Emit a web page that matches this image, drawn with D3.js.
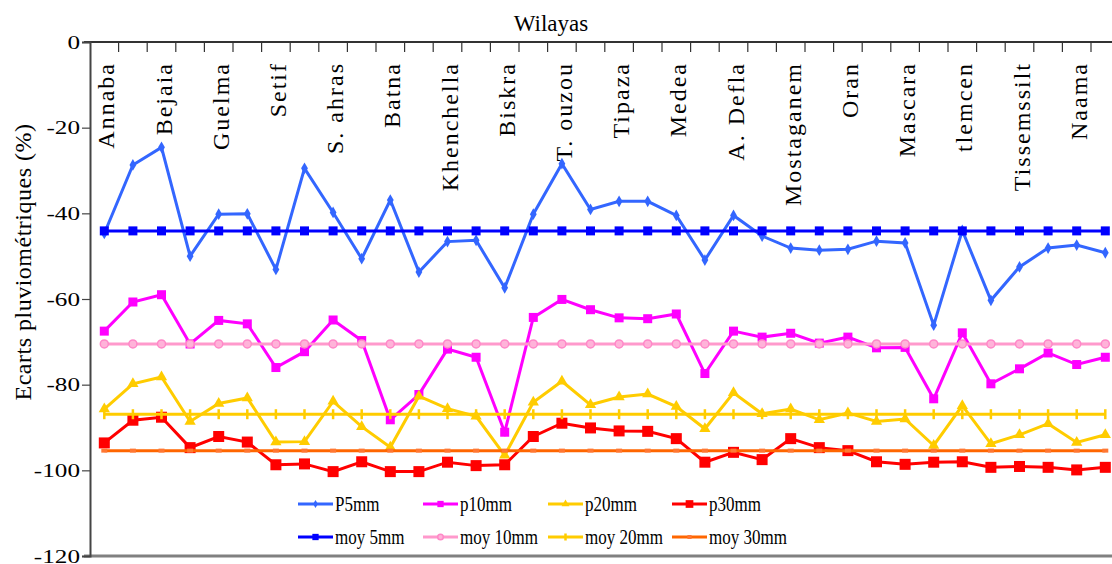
<!DOCTYPE html>
<html>
<head>
<meta charset="utf-8">
<script src="https://cdn.jsdelivr.net/npm/d3@7"></script>
<style>
    body { margin: 0; background: #fff; }
    text { font-family: "Liberation Serif", "DejaVu Serif", serif; fill: #000; }
</style>
</head>
<body>
<svg id="chart" width="1112" height="564"></svg>
<script>
// wilayas (one label every two points)
var wilayas = ["Annaba", "Bejaia", "Guelma", "Setif", "S. ahras", "Batna", "Khenchella", "Biskra",
    "T. ouzou", "Tipaza", "Medea", "A. Defla", "Mostaganem", "Oran", "Mascara", "tlemcen",
    "Tissemssilt", "Naama"];
var yTicks = [0, -20, -40, -60, -80, -100, -120];

// écarts pluviométriques (%)
var p5mm = [-44.7, -28.7, -24.6, -50.0, -40.2, -40.1, -53.1, -29.5, -39.8, -50.6, -36.9, -53.7,
    -46.6, -46.3, -57.4, -40.2, -28.4, -39.1, -37.2, -37.2, -40.5, -50.9, -40.5, -45.3,
    -48.1, -48.6, -48.4, -46.5, -46.9, -66.1, -44.0, -60.3, -52.5, -48.1, -47.4, -49.2];
var p10mm = [-67.5, -60.7, -59.0, -70.5, -65.0, -65.8, -76.0, -72.3, -64.9, -69.7, -88.2, -82.3,
    -71.7, -73.6, -91.1, -64.3, -60.1, -62.5, -64.4, -64.6, -63.5, -77.4, -67.5, -68.9,
    -68.0, -70.3, -68.9, -71.4, -71.3, -83.3, -67.9, -79.8, -76.3, -72.6, -75.3, -73.6];
var p20mm = [-85.7, -79.8, -78.2, -88.6, -84.4, -83.1, -93.4, -93.3, -83.9, -89.8, -94.6, -82.7,
    -85.6, -87.4, -96.5, -84.1, -79.2, -84.7, -82.9, -82.2, -85.1, -90.3, -81.9, -86.8,
    -85.7, -88.2, -86.6, -88.6, -88.0, -94.2, -84.9, -93.8, -91.7, -89.1, -93.5, -91.7];
var p30mm = [-93.6, -88.3, -87.6, -94.7, -92.1, -93.4, -98.7, -98.5, -100.3, -98.0, -100.3, -100.3,
    -98.1, -98.9, -98.7, -92.1, -89.0, -90.1, -90.8, -90.9, -92.6, -98.1, -95.8, -97.5,
    -92.6, -94.7, -95.4, -98.0, -98.6, -98.1, -98.0, -99.3, -99.1, -99.3, -99.9, -99.3];
// moyennes
var moy = [-44.1, -70.5, -86.9, -95.4];

var categories = d3.range(p5mm.length);

var series = [
    {name: "P5mm", values: p5mm, color: "#3366ff", marker: "diamond"},
    {name: "p10mm", values: p10mm, color: "#ff00ff", marker: "square"},
    {name: "p20mm", values: p20mm, color: "#ffcc00", marker: "triangle"},
    {name: "p30mm", values: p30mm, color: "#ff0000", marker: "bigsquare"},
    {name: "moy 5mm", mean: moy[0], color: "#0000ff", marker: "square"},
    {name: "moy 10mm", mean: moy[1], color: "#ff99cc", marker: "circle"},
    {name: "moy 20mm", mean: moy[2], color: "#ffcc00", marker: "plus"},
    {name: "moy 30mm", mean: moy[3], color: "#ff6600", marker: "dash"}
];

var svg = d3.select("#chart");
var plotLeft = 90, plotTop = 42, plotBottom = 556, band = 28.6;

var x = d3.scaleBand()
    .domain(categories)
    .range([plotLeft, plotLeft + band * categories.length]);
var y = d3.scaleLinear()
    .domain([-120, 0])
    .range([plotBottom, plotTop]);

function cx(i) { return x(i) + x.bandwidth() / 2; }

//axe horizontal du haut
svg.append("line")
    .attr("x1", plotLeft - 6).attr("x2", 1112)
    .attr("y1", plotTop).attr("y2", plotTop)
    .attr("stroke", "#333").attr("stroke-width", 2);
svg.selectAll(".xtick")
    .data(categories.slice(1))
    .enter()
    .append("line")
    .attr("x1", function(d) { return x(d); })
    .attr("x2", function(d) { return x(d); })
    .attr("y1", plotTop).attr("y2", plotTop + 10)
    .attr("stroke", "#333").attr("stroke-width", 1.2);

//bas
svg.append("line")
    .attr("x1", plotLeft - 6).attr("x2", 1112)
    .attr("y1", plotBottom).attr("y2", plotBottom)
    .attr("stroke", "#808080").attr("stroke-width", 3);

//axe vertical
var yAxis = d3.axisLeft(y).tickValues(yTicks).tickSize(8).tickFormat("");
var ya = svg.append("g").attr("transform", "translate(" + plotLeft + ",0)").call(yAxis);
ya.select(".domain").attr("stroke", "#444").attr("stroke-width", 2);
ya.selectAll(".tick line").attr("stroke", "#444").attr("stroke-width", 1.2);
svg.selectAll(".ylab")
    .data(yTicks)
    .enter()
    .append("text")
    .attr("transform", function(d) { return "translate(80," + (y(d) + 6.5) + ") scale(1.4,1)"; })
    .attr("text-anchor", "end")
    .attr("font-size", "18px")
    .text(function(d) { return d; });

svg.append("text")
    .attr("transform", "translate(31,262) rotate(-90)")
    .attr("text-anchor", "middle")
    .attr("font-size", "24px")
    .attr("letter-spacing", "0.5px")
    .text("Ecarts pluviométriques (%)");

svg.append("text")
    .attr("x", 551).attr("y", 31)
    .attr("text-anchor", "middle")
    .attr("font-size", "23px")
    .text("Wilayas");

//noms des wilayas
svg.selectAll(".cat")
    .data(wilayas)
    .enter()
    .append("text")
    .attr("transform", function(d, i) { return "translate(" + (cx(i * 2) + 10) + ",62) rotate(-90)"; })
    .attr("text-anchor", "end")
    .attr("font-size", "24px")
    .attr("letter-spacing", "2px")
    .text(function(d) { return d; });

//marqueurs
function drawMarker(g, type, color, px, py, s) {
    if (type === "diamond") {
        g.append("path").attr("d", d3.symbol(d3.symbolDiamond, 40 * s * s)())
            .attr("transform", "translate(" + px + "," + py + ")").attr("fill", color);
    } else if (type === "square" || type === "bigsquare") {
        var w = (type === "square" ? 9 : 11) * s;
        g.append("rect").attr("x", px - w / 2).attr("y", py - w / 2)
            .attr("width", w).attr("height", w).attr("fill", color);
    } else if (type === "triangle") {
        g.append("path").attr("d", d3.symbol(d3.symbolTriangle, 55 * s * s)())
            .attr("transform", "translate(" + px + "," + py + ")").attr("fill", color);
    } else if (type === "circle") {
        g.append("circle").attr("cx", px).attr("cy", py).attr("r", 4 * s)
            .attr("fill", "#ffb3d9").attr("stroke", "#ff88c8").attr("stroke-width", 1.5);
    } else if (type === "plus") {
        g.append("line").attr("x1", px).attr("x2", px).attr("y1", py - 5 * s).attr("y2", py + 5 * s)
            .attr("stroke", color).attr("stroke-width", 2.5);
    } else if (type === "dash") {
        g.append("line").attr("x1", px - 3 * s).attr("x2", px + 3 * s).attr("y1", py).attr("y2", py)
            .attr("stroke", "#ff7733").attr("stroke-width", 4);
    }
}

var line = d3.line()
    .x(function(d) { return cx(d[0]); })
    .y(function(d) { return y(d[1]); });

series.forEach(function(s) {
    var pts = categories.map(function(i) {
        return [i, s.values ? s.values[i] : s.mean];
    });
    var g = svg.append("g");
    g.append("path")
        .attr("d", line(pts))
        .attr("fill", "none")
        .attr("stroke", s.color)
        .attr("stroke-width", 3);
    pts.forEach(function(p) {
        drawMarker(g, s.marker, s.color, cx(p[0]), y(p[1]), 1);
    });
});

//légende
var legX = [298, 423, 548, 672], legY = [504, 537];
series.forEach(function(s, i) {
    var lx = legX[i % 4], ly = legY[Math.floor(i / 4)];
    var g = svg.append("g");
    g.append("line")
        .attr("x1", lx).attr("x2", lx + 35)
        .attr("y1", ly).attr("y2", ly)
        .attr("stroke", s.color).attr("stroke-width", 3);
    drawMarker(g, s.marker, s.color, lx + 17.5, ly, 0.7);
    g.append("text")
        .attr("transform", "translate(" + (lx + 37) + "," + (ly + 7) + ") scale(0.85,1)")
        .attr("font-size", "20px")
        .text(s.name);
});
</script>
</body>
</html>
